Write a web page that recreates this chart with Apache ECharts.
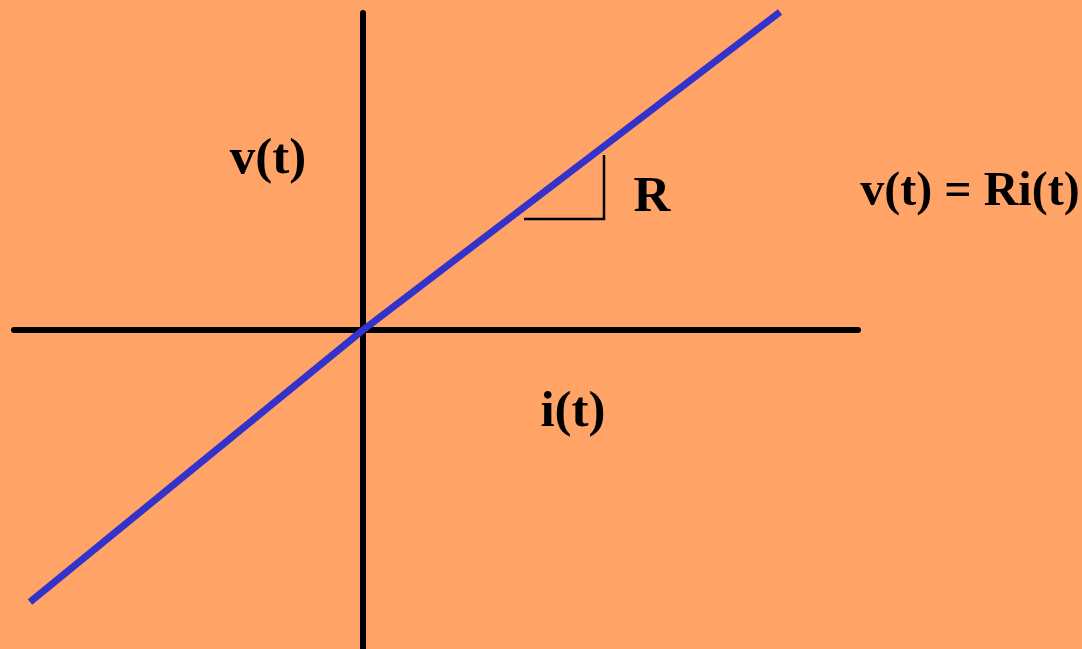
<!DOCTYPE html>
<html>
<head>
<meta charset="utf-8">
<script src="https://cdn.jsdelivr.net/npm/echarts@6/dist/echarts.min.js"></script>
<style>
html,body{margin:0;padding:0;background:#FFA366;}
#chart{width:1082px;height:649px;}
</style>
</head>
<body>
<div id="chart"></div>
<script>
// Current i(t) vs voltage v(t) characteristic (units relative to the origin)
const currentValues = [-333, 0, 417];
const voltageValues = [-272, 0, 318];
// slope triangle marking R
const slopeX = [161, 241, 241];
const slopeY = [111, 111, 175];
// text labels
const yAxisLabel = 'v(t)';
const xAxisLabel = 'i(t)';
const slopeLabel = 'R';
const equationLabel = 'v(t) = Ri(t)';

const lineData = currentValues.map((x, i) => [x, voltageValues[i]]);
const triData = slopeX.map((x, i) => [x, slopeY[i]]);

const chart = echarts.init(document.getElementById('chart'));
const font = '"Liberation Serif", "Times New Roman", serif';
const textStyle = (t, x, y, size) => ({
  type: 'text', x: x, y: y,
  style: { text: t, font: 'bold ' + size + 'px ' + font, fill: '#000', textAlign: 'center', textVerticalAlign: 'middle' }
});
chart.setOption({
  backgroundColor: '#FFA366',
  animation: false,
  grid: { left: 14, right: 224, top: 13, bottom: 0 },
  xAxis: {
    type: 'value', min: -349, max: 495,
    axisLine: { show: true, onZero: true, lineStyle: { color: '#000', width: 6 } },
    axisTick: { show: false }, axisLabel: { show: false }, splitLine: { show: false }
  },
  yAxis: {
    type: 'value', min: -319, max: 317,
    axisLine: { show: true, onZero: true, lineStyle: { color: '#000', width: 6 } },
    axisTick: { show: false }, axisLabel: { show: false }, splitLine: { show: false }
  },
  series: [
    {
      type: 'line', data: triData, symbol: 'none', clip: false,
      lineStyle: { color: '#000', width: 2.5, cap: 'butt', join: 'miter' }
    },
    {
      type: 'line', data: lineData, symbol: 'none', clip: false,
      lineStyle: { color: '#3333CC', width: 7, cap: 'butt' }
    }
  ],
  graphic: [
    textStyle(yAxisLabel, 268, 160, 51),
    textStyle(slopeLabel, 652, 198, 51),
    textStyle(equationLabel, 970, 193, 48),
    textStyle(xAxisLabel, 573, 413, 51)
  ]
});
</script>
</body>
</html>
